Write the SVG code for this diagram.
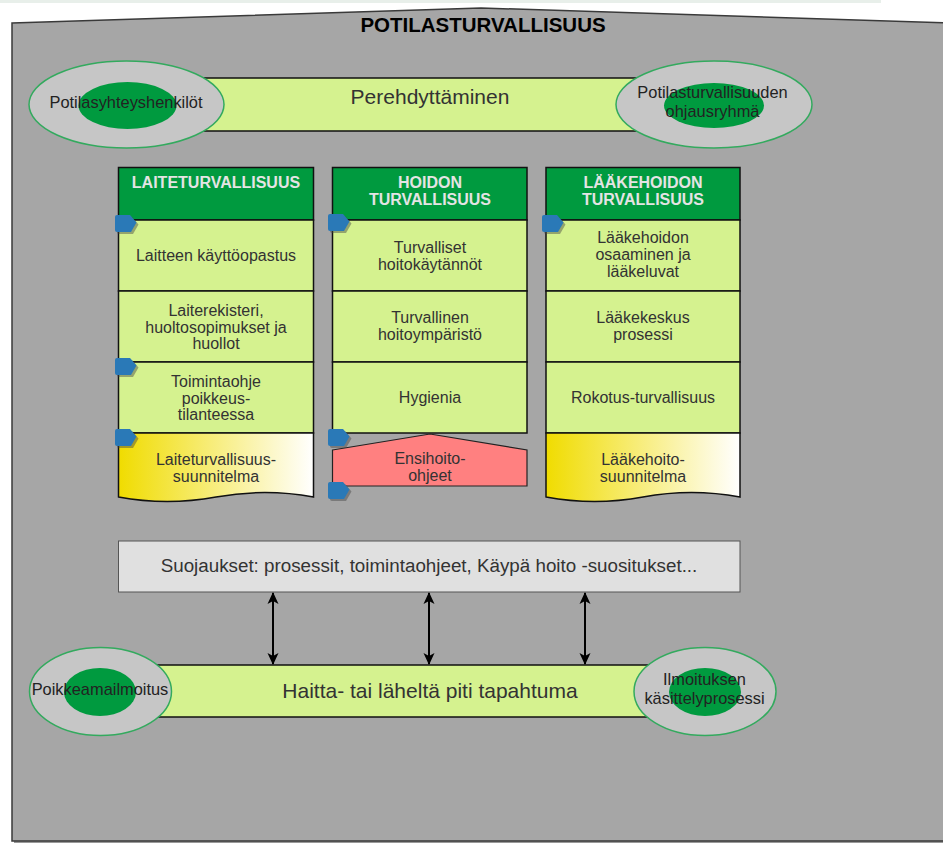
<svg xmlns="http://www.w3.org/2000/svg" xmlns:xlink="http://www.w3.org/1999/xlink" width="943" height="843" viewBox="0 0 943 843">
<style>
text{font-family:"Liberation Sans",Arial,sans-serif;}
.cell{fill:#d5f28f;stroke:#111;stroke-width:1.5;}
.hdr{fill:#009a3f;stroke:#111;stroke-width:1.5;}
.ht{fill:#e4e4e4;font-size:16px;font-weight:bold;text-anchor:middle;}
.ct{fill:#333;font-size:16px;text-anchor:middle;}
.oe{fill:#c6c6c6;stroke:#33aa5e;stroke-width:1.5;}
.ie{fill:#009a3f;}
.et{fill:#222;font-size:16.4px;text-anchor:middle;}
.bar{fill:#d5f28f;stroke:#111;stroke-width:1.5;}
.big{fill:#333;font-size:21px;text-anchor:middle;}
.con{stroke:#000;stroke-width:2;fill:none;}
</style>
<defs>
<linearGradient id="yg" x1="0" y1="0" x2="1" y2="0">
<stop offset="0" stop-color="#f0dc00"/>
<stop offset="1" stop-color="#ffffff"/>
</linearGradient>
<path id="tab" d="M2,0 H15 L21.5,7.5 L16,17 H2 Q0,17 0,15 V2 Q0,0 2,0 Z"/>
<marker id="ah" viewBox="0 0 12 12" refX="11" refY="6" markerWidth="12" markerHeight="12" markerUnits="userSpaceOnUse" orient="auto-start-reverse">
<path d="M0,0.5 L12,6 L0,11.5 L3,6 Z" fill="#000"/>
</marker>
</defs>

<rect x="0" y="0" width="881" height="3" fill="#e8efea"/>

<g id="potilasturvallisuus">
<path d="M14,25 L483,10 L952,25 V843 H14 Z" fill="#555" opacity="0.6"/>
<path d="M12,23 L481,8 L950,23 V841 H12 Z" fill="#a6a6a6" stroke="#3a3a3a" stroke-width="1.5"/>
<text x="483" y="32" font-size="20.5" font-weight="bold" fill="#000" text-anchor="middle">POTILASTURVALLISUUS</text>
</g>

<g id="perehdyttaminen">
<rect class="bar" x="190" y="78" width="465" height="53"/>
<text class="big" x="430" y="104">Perehdyttäminen</text>
</g>
<g id="potilasyhteyshenkilot">
<ellipse class="oe" cx="126.5" cy="104.5" rx="97.5" ry="43.5"/>
<ellipse class="ie" cx="127.5" cy="105.5" rx="49" ry="23.5"/>
<text class="et" x="126" y="108">Potilasyhteyshenkilöt</text>
</g>
<g id="ohjausryhma">
<ellipse class="oe" cx="714" cy="104.5" rx="98" ry="43.5"/>
<ellipse class="ie" cx="714" cy="105.5" rx="50" ry="22.5"/>
<text class="et" x="712.5" y="98">Potilasturvallisuuden</text>
<text class="et" x="712.5" y="117">ohjausryhmä</text>
</g>

<!-- Column 1 -->
<g id="laiteturvallisuus">
<rect class="hdr" x="118.5" y="167.5" width="195" height="52.5"/>
<text class="ht" x="216" y="188">LAITETURVALLISUUS</text>
</g>
<g id="laitteen-kayttoopastus">
<rect class="cell" x="118.5" y="220" width="195" height="71"/>
<text class="ct" x="216" y="261">Laitteen käyttöopastus</text>
</g>
<g id="laiterekisteri">
<rect class="cell" x="118.5" y="291" width="195" height="71"/>
<text class="ct" x="216" y="316">Laiterekisteri,</text>
<text class="ct" x="216" y="332.5">huoltosopimukset ja</text>
<text class="ct" x="216" y="349">huollot</text>
</g>
<g id="toimintaohje">
<rect class="cell" x="118.5" y="362" width="195" height="71"/>
<text class="ct" x="216" y="387">Toimintaohje</text>
<text class="ct" x="216" y="403.5">poikkeus-</text>
<text class="ct" x="216" y="420">tilanteessa</text>
</g>
<g id="laiteturvallisuussuunnitelma">
<path d="M118.5,433 H313.5 V497 Q265,488 216,497 Q167,506 118.5,497 Z" fill="url(#yg)" stroke="#111" stroke-width="1.5"/>
<text class="ct" x="216" y="465">Laiteturvallisuus-</text>
<text class="ct" x="216" y="482">suunnitelma</text>
</g>

<!-- Column 2 -->
<g id="hoidon-turvallisuus">
<rect class="hdr" x="332.5" y="167.5" width="194.5" height="52.5"/>
<text class="ht" x="430" y="188">HOIDON</text>
<text class="ht" x="430" y="205">TURVALLISUUS</text>
</g>
<g id="turvalliset-hoitokaytannot">
<rect class="cell" x="332.5" y="220" width="194.5" height="71"/>
<text class="ct" x="430" y="253">Turvalliset</text>
<text class="ct" x="430" y="269.5">hoitokäytännöt</text>
</g>
<g id="turvallinen-hoitoymparisto">
<rect class="cell" x="332.5" y="291" width="194.5" height="71"/>
<text class="ct" x="430" y="323">Turvallinen</text>
<text class="ct" x="430" y="340">hoitoympäristö</text>
</g>
<g id="hygienia">
<rect class="cell" x="332.5" y="362" width="194.5" height="71"/>
<text class="ct" x="430" y="403">Hygienia</text>
</g>
<g id="ensihoito-ohjeet">
<path d="M332.5,450 L430,434 L527,450 V486 H332.5 Z" fill="#ff8080" stroke="#222" stroke-width="1.2"/>
<text class="ct" x="430" y="464" fill="#3a1a1a">Ensihoito-</text>
<text class="ct" x="430" y="481" fill="#3a1a1a">ohjeet</text>
</g>

<!-- Column 3 -->
<g id="laakehoidon-turvallisuus">
<rect class="hdr" x="546" y="167.5" width="194" height="52.5"/>
<text class="ht" x="643" y="188">LÄÄKEHOIDON</text>
<text class="ht" x="643" y="205">TURVALLISUUS</text>
</g>
<g id="laakehoidon-osaaminen">
<rect class="cell" x="546" y="220" width="194" height="71"/>
<text class="ct" x="643" y="243">Lääkehoidon</text>
<text class="ct" x="643" y="260">osaaminen ja</text>
<text class="ct" x="643" y="277">lääkeluvat</text>
</g>
<g id="laakekeskus">
<rect class="cell" x="546" y="291" width="194" height="71"/>
<text class="ct" x="643" y="323">Lääkekeskus</text>
<text class="ct" x="643" y="340">prosessi</text>
</g>
<g id="rokotusturvallisuus">
<rect class="cell" x="546" y="362" width="194" height="71"/>
<text class="ct" x="643" y="403">Rokotus-turvallisuus</text>
</g>
<g id="laakehoitosuunnitelma">
<path d="M546,433 H740 V497 Q691.5,488 643,497 Q594.5,506 546,497 Z" fill="url(#yg)" stroke="#111" stroke-width="1.5"/>
<text class="ct" x="643" y="465">Lääkehoito-</text>
<text class="ct" x="643" y="482">suunnitelma</text>
</g>

<!-- Blue tabs -->
<g id="tabs">
<g fill="#444" opacity="0.45">
<use xlink:href="#tab" x="117" y="217"/>
<use xlink:href="#tab" x="117" y="360"/>
<use xlink:href="#tab" x="117" y="431"/>
<use xlink:href="#tab" x="330" y="216"/>
<use xlink:href="#tab" x="330" y="431"/>
<use xlink:href="#tab" x="330" y="484"/>
<use xlink:href="#tab" x="544" y="217"/>
</g>
<g fill="#2a79b7">
<use xlink:href="#tab" x="115" y="215"/>
<use xlink:href="#tab" x="115" y="358"/>
<use xlink:href="#tab" x="115" y="429"/>
<use xlink:href="#tab" x="328" y="214"/>
<use xlink:href="#tab" x="328" y="429"/>
<use xlink:href="#tab" x="328" y="482"/>
<use xlink:href="#tab" x="542" y="215"/>
</g>
</g>

<g id="suojaukset">
<rect x="118.5" y="541" width="621.5" height="51" fill="#e0e0e0" stroke="#555" stroke-width="1"/>
<text x="429" y="572" font-size="18.8" fill="#333" text-anchor="middle">Suojaukset: prosessit, toimintaohjeet, Käypä hoito -suositukset...</text>
</g>

<g id="haitta">
<rect class="bar" x="140" y="665" width="530" height="52"/>
<text class="big" x="430" y="698">Haitta- tai läheltä piti tapahtuma</text>
</g>
<g id="poikkeamailmoitus">
<ellipse class="oe" cx="100.5" cy="691.5" rx="71" ry="44"/>
<ellipse class="ie" cx="100" cy="692" rx="36" ry="24"/>
<text class="et" x="100" y="695">Poikkeamailmoitus</text>
</g>
<g id="kasittelyprosessi">
<ellipse class="oe" cx="705" cy="691.5" rx="71" ry="44"/>
<ellipse class="ie" cx="705" cy="692" rx="36" ry="24"/>
<text class="et" x="704.5" y="685">Ilmoituksen</text>
<text class="et" x="704.5" y="704">käsittelyprosessi</text>
</g>

<g id="connectors">
<line class="con" x1="273" y1="593" x2="273" y2="664" marker-start="url(#ah)" marker-end="url(#ah)"/>
<line class="con" x1="429" y1="593" x2="429" y2="664" marker-start="url(#ah)" marker-end="url(#ah)"/>
<line class="con" x1="585" y1="593" x2="585" y2="664" marker-start="url(#ah)" marker-end="url(#ah)"/>
</g>
</svg>
